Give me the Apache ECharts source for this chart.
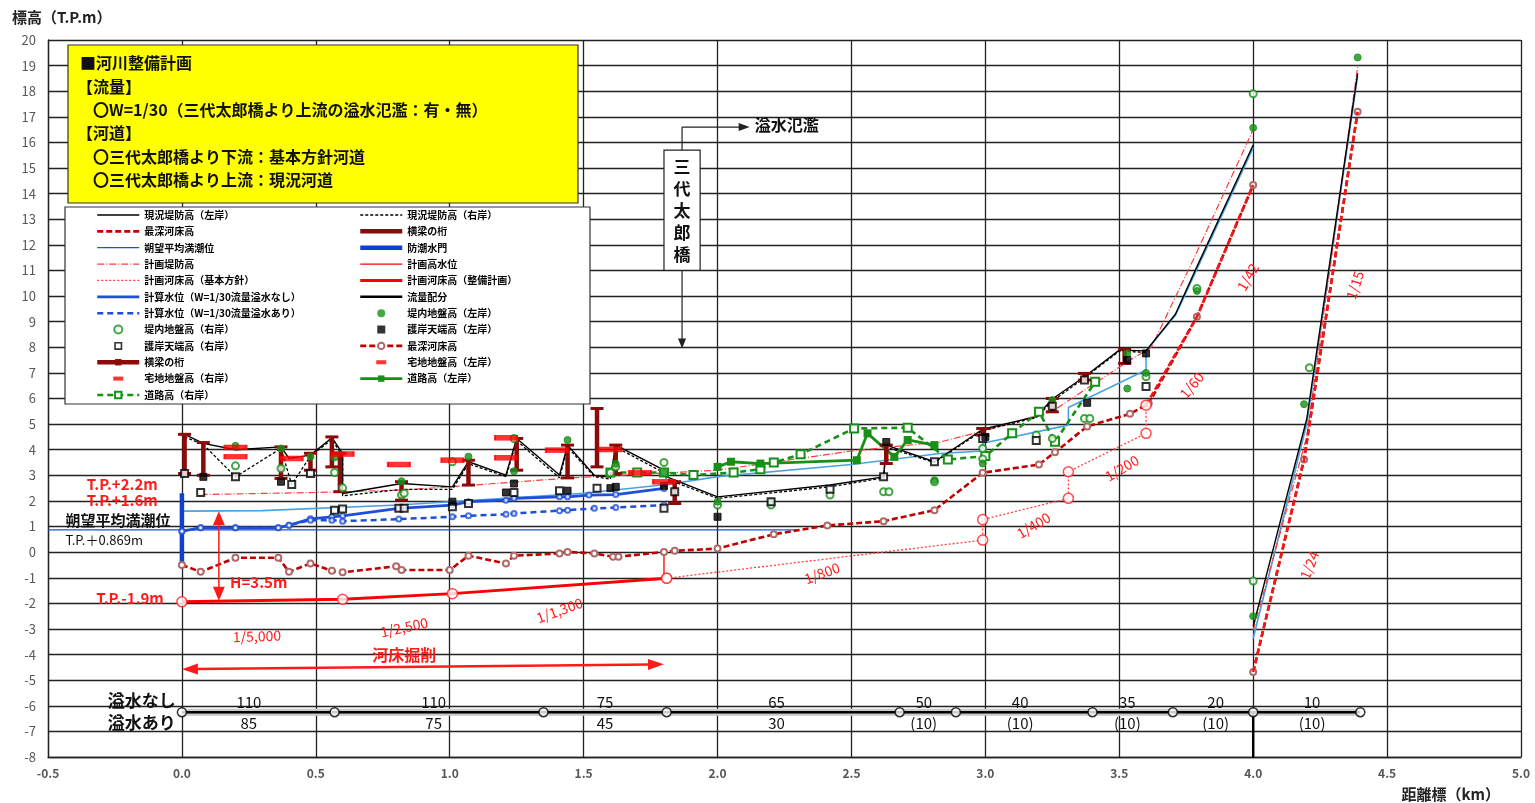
<!DOCTYPE html>
<html>
<head>
<meta charset="utf-8">
<title>河川整備計画 縦断図</title>
<script src="https://cdn.jsdelivr.net/npm/echarts@6.0.0/dist/echarts.min.js"></script>
<style>
html, body { margin: 0; padding: 0; background: #fff; }
#main { width: 1535px; height: 803px; }
</style>
</head>
<body>
<div id="main"></div>
<script>
const FONT = "'Noto Sans CJK JP', 'Noto Sans', sans-serif";

// ---- data (distance km, elevation T.P.m); null = break in line ----
const leveeLeft = [[0.01,4.6],[0.08,4.25],[0.2,4.0],[0.37,4.11],[0.4,3.66],[0.48,3.79],[0.56,4.47],[0.6,3.86],[0.6,2.29],[0.82,2.68],[1.01,2.55],[1.07,3.53],[1.21,3.01],[1.25,4.44],[1.41,3.01],[1.44,4.18],[1.54,3.0],[1.6,2.93],[1.62,4.18],[1.8,3.2],[1.81,2.94],[2.0,2.16],[2.42,2.62],[2.62,2.94],[2.63,4.18],[2.81,3.53],[2.99,4.8],[3.19,5.29],[3.25,5.98],[3.37,6.85],[3.5,7.89],[3.6,7.86],[3.71,9.3],[3.79,11.15],[4.0,15.9],null,[4.0,-2.9],[4.2,5.2],[4.39,18.7]];
const leveeRight = [[0.01,4.5],[0.08,4.2],[0.2,2.94],[0.37,4.05],[0.41,2.64],[0.48,3.75],[0.56,4.4],[0.6,3.75],[0.6,2.2],[0.82,2.45],[1.01,2.45],[1.07,3.45],[1.21,2.95],[1.25,4.35],[1.41,2.9],[1.44,4.1],[1.54,2.95],[1.6,2.85],[1.62,4.1],[1.8,3.1],[1.81,2.85],[2.0,2.1],[2.42,2.55],[2.62,2.9],[2.63,4.1],[2.81,3.5],[2.99,4.75],[3.19,5.25],[3.25,5.9],[3.37,6.8],[3.5,7.85],[3.6,7.8]];
const riverbed = [[0.0,-0.5],[0.07,-0.77],[0.2,-0.22],[0.36,-0.22],[0.4,-0.77],[0.48,-0.44],[0.56,-0.73],[0.6,-0.79],[0.8,-0.55],[0.82,-0.7],[1.0,-0.7],[1.07,-0.14],[1.21,-0.44],[1.24,-0.14],[1.41,-0.05],[1.44,0.01],[1.54,-0.05],[1.61,-0.18],[1.63,-0.18],[1.8,0.01],[1.84,0.05],[2.0,0.14],[2.21,0.7],[2.41,1.04],[2.62,1.21],[2.81,1.64],[2.99,3.1],[3.2,3.42],[3.26,3.9],[3.38,4.91],[3.54,5.4],[3.61,5.8],[3.79,9.19],[4.0,14.34],null,[4.0,-4.68],[4.19,3.62],[4.39,17.2]];
const riverbedSteep = [[3.6,5.74],[3.79,9.19],[4.0,14.34],null,[4.0,-4.68],[4.19,3.62],[4.39,17.2]];
const planLevee = [[0.07,2.25],[0.5,2.33],[0.81,2.42],[1.0,2.55],[1.44,2.89],[2.0,3.2],[2.5,3.95],[2.83,4.3],[3.0,4.75],[3.25,5.5],[3.54,7.5],[3.62,8.0],[3.78,11.5],[4.0,16.5],null,[4.0,-3.05],[4.2,4.5],[4.39,18.95]];
const planBedBasic = [[1.81,-1.02],[2.99,0.47],[2.99,1.27],[3.31,2.1],[3.31,3.14],[3.6,4.64],[3.6,5.74]];
const planBedProject = [[0.0,-1.94],[0.6,-1.84],[1.01,-1.62],[1.81,-1.02]];
const bedLink = [[1.8,0.01],[1.8,-1.02]];
const wlNoOverflow = [[0.0,0.82],[0.07,0.95],[0.2,0.95],[0.36,0.95],[0.4,1.05],[0.48,1.3],[0.56,1.38],[0.6,1.42],[0.81,1.71],[1.01,1.84],[1.07,1.97],[1.21,2.03],[1.24,2.1],[1.41,2.16],[1.44,2.16],[1.52,2.23],[1.62,2.25],[1.8,2.49]];
const wlOverflow = [[0.0,0.82],[0.07,0.95],[0.2,0.95],[0.36,0.95],[0.4,1.05],[0.48,1.25],[0.56,1.25],[0.6,1.21],[0.81,1.29],[1.01,1.38],[1.07,1.42],[1.21,1.48],[1.24,1.51],[1.41,1.62],[1.44,1.64],[1.54,1.71],[1.62,1.74],[1.8,1.84]];
const calcLine = [[0.0,1.6],[0.3,1.62],[0.81,1.84],[1.5,2.3],[1.82,2.65],[2.0,2.95],[2.5,3.42],[2.83,3.85],[2.99,3.95],[2.99,4.25],[3.31,4.96],[3.31,5.65],[3.6,7.11],[3.6,7.86],[3.71,9.25],[3.79,11.05],[4.0,15.8],null,[4.0,-3.37],[4.2,5.0],[4.39,18.6]];
const meanHighTide = [[-0.5,0.869],[2.3,0.869]];
const tideGate = [[0.0,2.3],[0.0,-0.5]];
const bridgeX = [0.01,0.08,0.37,0.48,0.56,0.59,0.82,1.07,1.25,1.44,1.55,1.62,1.84,2.63,2.99,3.25,3.37,3.52];
const bridgeTop = [4.6,4.28,4.11,3.86,4.5,3.86,2.75,3.59,4.44,4.18,5.61,4.18,2.75,4.18,4.83,6.0,6.98,7.92];
const bridgeBottom = [3.07,3.0,2.88,3.2,3.33,2.36,2.03,2.62,3.2,2.9,3.33,3.07,1.9,3.46,4.57,5.48,6.72,7.37];
const housingRight = [[0.2,4.09],[0.2,3.73],[0.41,3.66],[0.6,3.83],[0.81,3.42],[1.01,3.59],[1.21,4.47],[1.21,3.69],[1.4,3.98],[1.6,4.01]];
const housingLeft = [[1.71,3.1],[1.8,2.75]];
const groundLeft = [[0.2,4.15],[0.37,4.05],[0.48,3.73],[0.57,3.7],[0.82,2.77],[1.07,3.73],[1.24,3.16],[1.44,4.38],[1.62,3.45],[1.8,3.1],[2.0,1.97],[2.2,1.97],[2.81,2.81],[2.99,3.46],[3.25,5.94],[3.53,6.39],[3.53,7.76],[3.6,7.0],[3.79,10.2],[4.0,16.57],[4.0,-2.5],[4.19,5.78],[4.39,19.32]];
const groundRight = [[0.2,3.37],[0.37,3.27],[0.57,3.11],[0.6,2.51],[0.82,2.23],[0.83,2.3],[1.01,3.53],[1.24,4.44],[1.6,3.1],[1.62,3.33],[1.8,3.5],[2.0,1.84],[2.2,1.84],[2.42,2.23],[2.62,2.36],[2.64,2.36],[2.81,2.75],[2.99,4.05],[2.99,3.64],[3.19,4.57],[3.25,4.44],[3.37,5.22],[3.39,5.22],[3.6,6.85],[3.79,10.3],[4.0,17.9],[4.0,-1.13],[4.21,7.2]];
const revetRight = [[0.01,3.07],[0.07,2.33],[0.2,2.94],[0.41,2.64],[0.48,3.07],[0.57,1.64],[0.6,1.68],[0.81,1.71],[0.83,1.71],[1.01,1.77],[1.07,1.9],[1.24,2.33],[1.41,2.4],[1.55,2.5],[1.8,1.71],[1.84,2.36],[2.2,1.97],[2.42,2.46],[2.62,2.94],[2.81,3.53],[2.99,4.44],[3.19,4.36],[3.25,5.7],[3.37,6.72],[3.6,6.47]];
const revetLeft = [[0.08,2.94],[0.37,2.75],[1.01,1.97],[1.21,2.33],[1.24,2.68],[1.44,2.4],[1.6,2.5],[1.62,2.55],[1.8,2.59],[2.0,1.38],[2.63,4.3],[3.0,4.5],[3.38,5.83],[3.53,7.5],[3.6,7.76]];
const roadRight = [[1.6,3.11],[1.7,3.11],[1.8,3.11],[1.91,3.01],[2.06,3.11],[2.16,3.24],[2.21,3.5],[2.31,3.82],[2.51,4.83],[2.71,4.86],[2.86,3.62],[3.0,3.75],[3.1,4.64],[3.2,5.48],[3.26,4.31],[3.41,6.65]];
const roadLeft = [[2.0,3.33],[2.05,3.53],[2.16,3.46],[2.52,3.59],[2.56,4.64],[2.66,3.72],[2.71,4.38],[2.81,4.18]];

// flow distribution table (m3/s)
const flowBreaks = [0.0,0.57,1.35,1.81,2.68,2.89,3.4,3.7,4.0,4.4];
const flowLevel = -6.25;
const flowLabelX = [0.25,0.94,1.58,2.22,2.77,3.13,3.53,3.86,4.22];
const flowNoOverflow = ['110','110','75','65','50','40','35','20','10'];
const flowOverflow = ['85','75','45','30','(10)','(10)','(10)','(10)','(10)'];

// bed slope labels
const slopeText = ['1/5,000','1/2,500','1/1,300','1/800','1/400','1/200','1/60','1/42','1/15','1/24'];
const slopeX = [0.28,0.83,1.41,2.39,3.18,3.51,3.77,3.98,4.38,4.21];
const slopeY = [-3.28,-2.93,-2.27,-0.82,1.05,3.28,6.52,10.74,10.43,-0.51];
const slopeRot = [2,12,20,20,31,31,50,60,72,68];

const boxLines = ['■河川整備計画','【流量】','　〇W=1/30（三代太郎橋より上流の溢水氾濫：有・無）','【河道】','　〇三代太郎橋より下流：基本方針河道','　〇三代太郎橋より上流：現況河道'];

// ---- helpers ----
const gap = arr => arr.map(p => p === null ? ['-', '-'] : p);
function line(name, data, color, width, type, extra) {
  return Object.assign({
    name: name, type: 'line', data: gap(data), symbol: 'none', connectNulls: false,
    lineStyle: { color: color, width: width, type: type || 'solid' },
    itemStyle: { color: color }, silent: true, z: 3
  }, extra || {});
}
function dots(name, data, symbol, size, color, extra) {
  return Object.assign({
    name: name, type: 'scatter', data: data, symbol: symbol, symbolSize: size,
    itemStyle: { color: color, borderColor: color }, silent: true, z: 5
  }, extra || {});
}

const bridgeData = [];
bridgeX.forEach((x, i) => { bridgeData.push([x, bridgeTop[i]], [x, bridgeBottom[i]], null); });
const flowData = flowBreaks.map(x => [x, flowLevel]);

const series = [
  line('_calc', calcLine, '#4aa3df', 1.6),
  line('朔望平均満潮位', meanHighTide, '#1f4fd8', 1.3),
  line('計画堤防高', planLevee, '#ff3b3b', 1.2, [7, 2, 1, 2]),
  line('現況堤防高（右岸）', leveeRight, '#000', 1.3, [3, 2]),
  line('現況堤防高（左岸）', leveeLeft, '#000', 1.4),
  line('最深河床高', [], '#c00000', 2.6, [6, 3]),
  line('最深河床高#2', riverbed, '#c00000', 2.6, [6, 3], {
    symbol: 'emptyCircle', symbolSize: 6, itemStyle: { color: '#b06a6a' }
  }),
  line('_bedSteep', riverbedSteep, '#f01818', 2.6, [6, 3], { z: 4 }),
  line('計画河床高（基本方針）', planBedBasic, '#ff4040', 1.3, [2, 2]),
  line('_link', bedLink, '#ff2020', 1.5),
  line('計画河床高（整備計画）', planBedProject, '#ff0000', 3),
  dots('_bedPts', planBedBasic.concat(planBedProject), 'circle', 10, '#fff',
    { itemStyle: { color: '#fff', borderColor: '#ff2020', borderWidth: 1.5 }, z: 6 }),
  line('計画高水位', [], '#ff0000', 1.2),
  line('計算水位（W=1/30流量溢水あり）', wlOverflow, '#1f4fd8', 2.5, [6, 4]),
  line('計算水位（W=1/30流量溢水なし）', wlNoOverflow, '#1f4fd8', 2.8),
  dots('_wlPts', wlNoOverflow.concat(wlOverflow), 'emptyCircle', 5, '#1f4fd8'),
  line('防潮水門', tideGate, '#1040d0', 4.5),
  line('道路高（右岸）', roadRight, '#179017', 2.6, [6, 4], { symbol: 'emptyRect', symbolSize: 8 }),
  line('道路高（左岸）', roadLeft, '#179017', 2.8, 'solid', { symbol: 'rect', symbolSize: 8 }),
  line('横梁の桁', bridgeData, '#8b0a0a', 4.5, 'solid', { symbol: 'rect', symbolSize: [13, 3], z: 4 }),
  line('横梁の桁#2', [], '#8b0a0a', 4.5),
  dots('堤内地盤高（右岸）', groundRight, 'emptyCircle', 7, '#179017'),
  dots('堤内地盤高（左岸）', groundLeft, 'circle', 7, '#179017'),
  dots('護岸天端高（右岸）', revetRight, 'emptyRect', 7, '#000'),
  dots('護岸天端高（左岸）', revetLeft, 'rect', 7, '#000'),
  dots('宅地地盤高（右岸）', housingRight, 'rect', [22, 5], '#ff0000'),
  dots('宅地地盤高（左岸）', housingLeft, 'rect', [22, 5], '#ff0000'),
  line('_flowBand', flowData, '#c9c9c9', 7),
  line('流量配分', flowData, '#000', 2.4),
  line('_flowTick', [[4.0, flowLevel], [4.0, -8]], '#000', 2.4),
  dots('_flowPts', flowData, 'circle', 9, '#fff',
    { itemStyle: { color: '#fff', borderColor: '#000', borderWidth: 1.5 }, z: 6 })
];

const SQ = 'path://M0,0h8v8h-8z';
const SQ_OPEN = 'path://M0,0h8v8h-8zM1.6,1.6v4.8h4.8v-4.8z';
const DASH = 'path://M0,0M42,8M16,2h10v4h-10z';
const legendLeft = ['現況堤防高（左岸）','最深河床高','朔望平均満潮位','計画堤防高','計画河床高（基本方針）','計算水位（W=1/30流量溢水なし）','計算水位（W=1/30流量溢水あり）',{ name: '堤内地盤高（右岸）' },{ name: '護岸天端高（右岸）', icon: SQ_OPEN },'横梁の桁',{ name: '宅地地盤高（右岸）', icon: DASH },'道路高（右岸）'];
const legendRight = ['現況堤防高（右岸）','横梁の桁#2','防潮水門','計画高水位','計画河床高（整備計画）','流量配分',{ name: '堤内地盤高（左岸）' },{ name: '護岸天端高（左岸）', icon: SQ },'最深河床高#2',{ name: '宅地地盤高（左岸）', icon: DASH },'道路高（左岸）'];

// line entries: keep the series' own line width, hide the marker for plain lines
const lineSeries = {};
series.filter(s => s.type === 'line').forEach(s => { lineSeries[s.name] = s; });
const legendItems = list => list.map(it => {
  const s = typeof it === 'string' ? lineSeries[it] : null;
  if (!s) return it;
  const item = { name: it, lineStyle: { width: Math.min(s.lineStyle.width, 5) } };
  if (s.symbol === 'none') item.itemStyle = { opacity: 0 };
  return item;
});

function legendAt(left, data) {
  return {
    data: legendItems(data), left: left, top: 209, orient: 'vertical', padding: 0,
    itemWidth: 42, itemHeight: 8, itemGap: 4.36, selectedMode: false, z: 20,
    formatter: n => n.replace('#2', ''),
    textStyle: { fontSize: 10, color: '#000', fontWeight: 'bold', lineHeight: 12, fontFamily: FONT }
  };
}

const axisLine = { show: true, onZero: false, lineStyle: { color: '#222', width: 1.3 } };
const split = { show: true, lineStyle: { color: '#222', width: 1.3 } };

const option = {
  animation: false,
  textStyle: { fontFamily: FONT },
  grid: { left: 48, right: 14, top: 40, bottom: 46 },
  xAxis: {
    type: 'value', min: -0.5, max: 5.0, interval: 0.5,
    axisLine: axisLine, axisTick: { show: false }, splitLine: split,
    axisLabel: { color: '#555', fontSize: 12, fontWeight: 'bold', margin: 10, formatter: v => v.toFixed(1) }
  },
  yAxis: {
    type: 'value', min: -8, max: 20, interval: 1,
    axisLine: axisLine, axisTick: { show: false }, splitLine: split,
    axisLabel: { color: '#595959', fontSize: 13, margin: 12 }
  },
  legend: [legendAt(95, legendLeft), legendAt(358, legendRight)],
  series: series
};

const chart = echarts.init(document.getElementById('main'));
chart.setOption(option);

// ---- annotations placed through the grid's coordinate system ----
const P = (x, y) => chart.convertToPixel({ gridIndex: 0 }, [x, y]);
function txt(p, text, font, fill, align, rot) {
  return {
    type: 'text', x: p[0], y: p[1], rotation: (rot || 0) * Math.PI / 180, z: 15,
    style: { text: text, font: font, fill: fill, align: align || 'left', verticalAlign: 'middle' }
  };
}
function head(tip, dx, dy, len, half, color) {
  const bx = tip[0] - dx * len, by = tip[1] - dy * len;
  return {
    type: 'polygon', z: 15,
    shape: { points: [tip, [bx - dy * half, by + dx * half], [bx + dy * half, by - dx * half]] },
    style: { fill: color }
  };
}
function seg(a, b, color, w) {
  return { type: 'line', z: 15, shape: { x1: a[0], y1: a[1], x2: b[0], y2: b[1] }, style: { stroke: color, lineWidth: w } };
}

const red = '#ff1a1a';
const g = [];
// axis titles
g.push({ type: 'text', x: 12, y: 17, z: 15, style: { text: '標高（T.P.m）', font: 'bold 15px ' + FONT, fill: '#222', verticalAlign: 'middle' } });
g.push({ type: 'text', x: 1500, y: 794, z: 15, style: { text: '距離標（km）', font: 'bold 15px ' + FONT, fill: '#222', align: 'right', verticalAlign: 'middle' } });
// yellow note box
g.push({ type: 'rect', z: 10, shape: { x: 68, y: 45, width: 510, height: 158 }, style: { fill: '#ffff00', stroke: '#333', lineWidth: 1.2 } });
const boxY = [63, 87, 110, 133, 157, 180];
boxLines.forEach((t, i) => g.push({
  type: 'text', x: i === 0 ? 80 : 77, y: boxY[i], z: 11,
  style: { text: t, font: 'bold 16px ' + FONT, fill: '#111', verticalAlign: 'middle' }
}));
// legend frame
g.push({ type: 'rect', z: 10, shape: { x: 65, y: 207, width: 525, height: 197 }, style: { fill: '#fff', stroke: '#333', lineWidth: 1.2 } });

// left-side level notes
g.push(txt(P(-0.355, 2.66), 'T.P.+2.2m', 'bold 15px ' + FONT, red));
g.push(txt(P(-0.355, 2.03), 'T.P.+1.6m', 'bold 15px ' + FONT, red));
g.push(txt(P(-0.435, 1.25), '朔望平均満潮位', 'bold 15px ' + FONT, '#111'));
g.push(txt(P(-0.435, 0.47), 'T.P.＋0.869m', '13px ' + FONT, '#111'));
g.push(txt(P(-0.32, -1.82), 'T.P.-1.9m', 'bold 15px ' + FONT, red));
g.push(txt(P(0.18, -1.17), 'H=3.5m', 'bold 15px ' + FONT, red));
// H=3.5m double arrow
const hTop = P(0.138, 1.6), hBot = P(0.138, -1.9);
g.push(seg([hTop[0], hTop[1] + 10], [hBot[0], hBot[1] - 10], red, 1.5));
g.push(head(hTop, 0, -1, 14, 6, red));
g.push(head(hBot, 0, 1, 14, 6, red));

// slope labels
slopeText.forEach((t, i) => g.push(txt(P(slopeX[i], slopeY[i]), t, '14px ' + FONT, red, 'center', slopeRot[i])));

// excavation arrow
const eL = P(0.0, -4.57), eR = P(1.8, -4.38);
const ex = eR[0] - eL[0], ey = eR[1] - eL[1], el = Math.hypot(ex, ey);
g.push(seg([eL[0] + ex / el * 14, eL[1] + ey / el * 14], [eR[0] - ex / el * 14, eR[1] - ey / el * 14], red, 2.5));
g.push(head(eL, -ex / el, -ey / el, 16, 5.5, red));
g.push(head(eR, ex / el, ey / el, 16, 5.5, red));
g.push(txt(P(0.83, -4.02), '河床掘削', 'bold 16px ' + FONT, red, 'center'));

// bridge name box and overflow arrows
const bTL = P(1.8, 15.7), bBR = P(1.935, 11.0);
const bCx = (bTL[0] + bBR[0]) / 2;
g.push({ type: 'rect', z: 12, shape: { x: bTL[0], y: bTL[1], width: bBR[0] - bTL[0], height: bBR[1] - bTL[1] }, style: { fill: '#fff', stroke: '#222', lineWidth: 1.2 } });
g.push({ type: 'text', x: bCx, y: (bTL[1] + bBR[1]) / 2, z: 13, style: { text: '三\n代\n太\n郎\n橋', font: 'bold 17px ' + FONT, fill: '#111', align: 'center', verticalAlign: 'middle', lineHeight: 22 } });
const corner = [bCx, P(1.8, 16.6)[1]];
const rTip = [P(2.12, 0)[0], corner[1]];
g.push(seg([bCx, bTL[1]], corner, '#222', 1.2));
g.push(seg(corner, [rTip[0] - 10, rTip[1]], '#222', 1.2));
g.push(head(rTip, 1, 0, 11, 4, '#222'));
g.push(txt([rTip[0] + 5, rTip[1] - 2], '溢水氾濫', 'bold 16px ' + FONT, '#111'));
const dTip = [bCx, P(0, 7.95)[1]];
g.push(seg([bCx, bBR[1]], [bCx, dTip[1] - 9], '#222', 1.2));
g.push(head(dTip, 0, 1, 10, 4, '#222'));

// flow table labels
g.push(txt(P(-0.15, -5.8), '溢水なし', 'bold 17px ' + FONT, '#111', 'center'));
g.push(txt(P(-0.15, -6.65), '溢水あり', 'bold 17px ' + FONT, '#111', 'center'));
flowLabelX.forEach((x, i) => {
  g.push(txt(P(x, -5.85), flowNoOverflow[i], '15px ' + FONT, '#111', 'center'));
  g.push(txt(P(x, -6.68), flowOverflow[i], '15px ' + FONT, '#111', 'center'));
});

chart.setOption({ graphic: g });
</script>
</body>
</html>
